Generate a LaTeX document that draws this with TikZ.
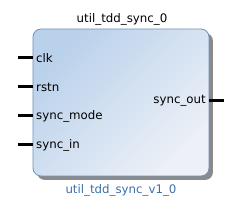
\documentclass[tikz,border=0pt]{standalone}
\usepackage{fontspec}
\setmainfont{DejaVu Sans}
\begin{document}
\begin{tikzpicture}[x=1pt,y=1pt,
  lbl/.style={inner sep=0pt,font=\fontsize{11.8}{13}\selectfont},
  pin/.style={line width=3pt,black}]
\useasboundingbox (0,0) rectangle (250,205);
\definecolor{topc}{HTML}{BAD1EB}
\definecolor{botc}{HTML}{EDF1F7}
\definecolor{bordc}{HTML}{7393B8}
\definecolor{shc}{HTML}{8A8A8A}
\definecolor{subc}{HTML}{3E70A8}
% shadow
\fill[shc,rounded corners=8pt] (37,25) rectangle (213,172);
% body
\shade[rounded corners=8pt,top color=topc,bottom color=botc,shading angle=45] (33,29) rectangle (209,176);
\draw[bordc,line width=0.8pt,rounded corners=8pt] (33,29) rectangle (209,176);
\node (body) at (121,102.5) [minimum width=176pt,minimum height=147pt,inner sep=0pt] {};
% title
\node[lbl] (title) at (122,186) {util\_tdd\_sync\_0};
\node[lbl,text=subc] (sub) at (121,15) {util\_tdd\_sync\_v1\_0};
% left pins
\coordinate (c1) at (33,147);
\coordinate (c2) at (33,118);
\coordinate (c3) at (33,89);
\coordinate (c4) at (33,60);
\coordinate (e1) at (18,147);
\coordinate (e2) at (18,118);
\coordinate (e3) at (18,89);
\coordinate (e4) at (18,60);
\draw[pin] (e1) -- (c1);
\draw[pin] (e2) -- (c2);
\draw[pin] (e3) -- (c3);
\draw[pin] (e4) -- (c4);
\node[lbl,anchor=west] (clk) at (36,147) {clk};
\node[lbl,anchor=west] (rstn) at (36,118) {rstn};
\node[lbl,anchor=west] (smode) at (36,89) {sync\_mode};
\node[lbl,anchor=west] (sin) at (36,60) {sync\_in};
% right pin
\coordinate (r1) at (209,104);
\coordinate (r2) at (224,104);
\draw[pin] (r1) -- (r2);
\node[lbl,anchor=east] (sout) at (206,104) {sync\_out};
\end{tikzpicture}
\end{document}
